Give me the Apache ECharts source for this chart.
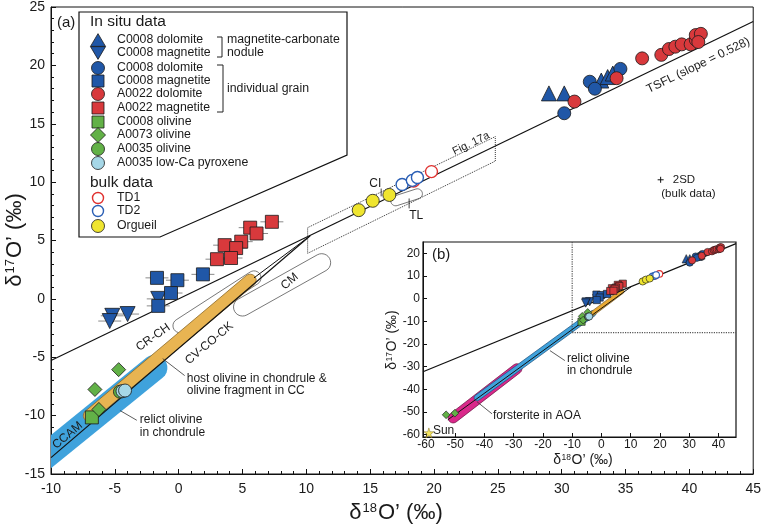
<!DOCTYPE html>
<html><head><meta charset="utf-8">
<script src="https://cdn.jsdelivr.net/npm/echarts@6/dist/echarts.min.js"></script>
<style>html,body{margin:0;padding:0;background:#fff}#c{width:764px;height:528px}</style>
</head><body><div id="c"></div>
<script>
// ================= DATA  [δ18O', δ17O'] (‰) =================
// In situ data
const c0008DolomiteNodule   = [[29.0,17.6],[30.2,17.6],[33.1,18.7],[33.6,19.0],[34.0,19.3]];
const c0008MagnetiteNodule  = [[-1.6,0.0],[-4.0,-1.3],[-5.2,-1.45],[-5.4,-1.9]];
const c0008DolomiteGrain    = [[30.2,15.9],[32.2,18.6],[32.6,18.0],[34.6,19.7]];
const c0008MagnetiteGrain   = [[-1.7,1.8],[-0.1,1.6],[1.9,2.1],[-0.6,0.5],[-1.6,-0.6]];
const a0022Dolomite         = [[31.0,16.9],[34.3,18.9],[36.3,20.6],[37.8,20.9],[38.4,21.4],[38.9,21.6],[39.4,21.8],[40.1,21.8],[40.5,22.2],[40.5,22.6],[40.9,22.7],[40.7,22.0]];
const a0022Magnetite        = [[7.3,6.6],[5.6,6.1],[6.1,5.6],[4.9,4.9],[3.6,4.6],[4.5,4.35],[3.0,3.4],[4.1,3.5]];
const c0008Olivine          = [[-6.8,-10.15]];
const a0073Olivine          = [[-4.7,-6.06],[-6.56,-7.76],[-6.25,-9.47],[-53.1,-51.2],[-50.1,-50.5]];
const a0035Olivine          = [[-4.6,-7.95]];
const a0035LowCaPyroxene    = [[-4.4,-7.9],[-4.2,-7.85]];
// bulk data
const bulkTD1               = [[18.4,10.1],[19.8,10.9]];
const bulkTD2               = [[17.5,9.8],[18.3,10.15],[18.7,10.4]];
const bulkOrgueil           = [[14.1,7.6],[15.2,8.4],[16.5,8.9]];
const sunValue              = [[-59.0,-59.2]];
// uncertainty (x, ‰) on magnetite analyses
const magnetiteErrX         = 0.9;
// reference lines / fields (end points in ‰)
const lineTSFL      = [[-10,-5.28],[45,23.76]];
const lineCCAM      = [[-10,-13.6],[10.3,5.4]];
const lineBranch    = [[5.9,1.8],[10.3,5.4]];
const fieldRelict   = [[-12.5,-15.3],[-1.9,-5.9]];
const fieldHost     = [[-7.0,-10.0],[5.6,1.6]];
const fieldCRCH     = [[0.1,-2.3],[5.9,1.8]];
const fieldCM       = [[5.0,-0.7],[11.2,3.1]];
const fieldTL       = [[17.0,8.4],[18.7,9.0]];
const boxFig17a     = [[10.1,6.1],[24.8,13.9],[24.8,11.8],[10.1,3.9],[10.1,6.1]];
const tickCI        = [[15.86,9.45],[15.86,8.78]];
const tickTL        = [[18.05,8.6],[18.05,7.75]];
// inset (b)
const insetTSFL     = [[-61,-32.2],[46,24.3]];
const insetCCAM     = [[-52.5,-53.4],[10.3,5.4]];
const insetAOA      = [[-50.7,-52.6],[-28.9,-30.9]];
const insetRelict   = [[-42.5,-43.7],[-2.9,-6.5]];
const insetHost     = [[-3.5,-7.0],[7.0,3.2]];
const insetDotV     = [[-10,25],[-10,-15]];
const insetDotH     = [[-10,-15],[46,-15]];
// axis tick values
const xTicksInset = [-60,-50,-40,-30,-20,-10,0,10,20,30,40];
const yTicksInset = [-60,-50,-40,-30,-20,-10,0,10,20];
// legend texts
const legendInSitu = ['C0008 dolomite','C0008 magnetite','C0008 dolomite','C0008 magnetite','A0022 dolomite','A0022 magnetite','C0008 olivine','A0073 olivine','A0035 olivine','A0035 low-Ca pyroxene'];
const legendBulk = ['TD1','TD2','Orgueil'];

// ================= STYLES =================
const FONT = 'Arial, "Liberation Sans", Helvetica, sans-serif';
const BLUE='#2057a7', RED='#d8393c', GREEN='#62b147', LBLUE='#a6d7e7', YEL='#efe52f', EDGE='#1a1a1a';
const sty = {
  dolNod:{symbol:'triangle', color:BLUE, size:15},
  magNod:{symbol:'triangle', rotate:180, color:BLUE, size:15},
  dolGrC:{symbol:'circle', color:BLUE, size:13},
  magGrC:{symbol:'rect', color:BLUE, size:13},
  dolA:{symbol:'circle', color:RED, size:13},
  magA:{symbol:'rect', color:RED, size:13},
  olC:{symbol:'rect', color:GREEN, size:13},
  ol73:{symbol:'diamond', color:GREEN, size:14},
  ol35:{symbol:'circle', color:GREEN, size:13},
  px35:{symbol:'circle', color:LBLUE, size:13},
  td1:{symbol:'circle', color:'#fff', border:'#e0312f', bw:1.4, size:12},
  td2:{symbol:'circle', color:'#fff', border:'#2b5fb5', bw:1.4, size:12},
  org:{symbol:'circle', color:YEL, size:13}
};
const seriesDefs = [
  ['C0008 dolomite (nodule)', c0008DolomiteNodule, sty.dolNod],
  ['C0008 magnetite (nodule)', c0008MagnetiteNodule, sty.magNod],
  ['C0008 dolomite', c0008DolomiteGrain, sty.dolGrC],
  ['C0008 magnetite', c0008MagnetiteGrain, sty.magGrC],
  ['A0022 dolomite', a0022Dolomite, sty.dolA],
  ['A0022 magnetite', a0022Magnetite, sty.magA],
  ['C0008 olivine', c0008Olivine, sty.olC],
  ['A0073 olivine', a0073Olivine, sty.ol73],
  ['A0035 olivine', a0035Olivine, sty.ol35],
  ['A0035 low-Ca pyroxene', a0035LowCaPyroxene, sty.px35],
  ['TD1', bulkTD1, sty.td1],
  ['TD2', bulkTD2, sty.td2],
  ['Orgueil', bulkOrgueil, sty.org]
];

function scatter(name, data, s, xi, scale){
  return {type:'scatter', name, data, xAxisIndex:xi, yAxisIndex:xi, silent:true, z:6,
    symbol:s.symbol, symbolRotate:s.rotate||0, symbolSize:Math.round(s.size*scale*10)/10,
    itemStyle:{color:s.color, borderColor:s.border||EDGE, borderWidth:(s.bw||0.8)*(scale<1?0.8:1), opacity:1}};
}
function stadium(p1,p2,r,n){
  n=n||12; const th=Math.atan2(p2[1]-p1[1],p2[0]-p1[0]); const pts=[];
  for(let i=0;i<=n;i++){const a=th+Math.PI/2-Math.PI*i/n; pts.push([p2[0]+r*Math.cos(a),p2[1]+r*Math.sin(a)]);}
  for(let i=0;i<=n;i++){const a=th-Math.PI/2-Math.PI*i/n; pts.push([p1[0]+r*Math.cos(a),p1[1]+r*Math.sin(a)]);}
  return pts;
}
function band(ends, widthPx, style, xi, z){
  return {type:'custom', xAxisIndex:xi, yAxisIndex:xi, silent:true, clip:true, z:z||3,
    data:[[ends[0][0],ends[0][1],ends[1][0],ends[1][1]]], encode:{x:[0,2],y:[1,3]},
    renderItem:(params,api)=>{
      const a=api.coord([api.value(0),api.value(1)]), b=api.coord([api.value(2),api.value(3)]);
      return {type:'polygon', shape:{points:stadium(a,b,widthPx/2)}, style:style};
    }};
}
function line(data, xi, ls, z){
  return {type:'line', data, xAxisIndex:xi, yAxisIndex:xi, symbol:'none', silent:true, z:z||4,
    lineStyle:Object.assign({color:'#111', width:1.2}, ls||{})};
}
function errBars(data, e, xi){
  return {type:'custom', xAxisIndex:xi, yAxisIndex:xi, silent:true, z:5, data,
    renderItem:(params,api)=>{
      const x=api.value(0), y=api.value(1);
      const a=api.coord([x-e,y]), b=api.coord([x+e,y]);
      return {type:'line', shape:{x1:a[0],y1:a[1],x2:b[0],y2:b[1]}, style:{stroke:'#8a8a8a', lineWidth:1}};
    }};
}
function texts(labels, xi){
  return {type:'custom', xAxisIndex:xi, yAxisIndex:xi, silent:true, clip:false, z:9,
    data:labels.map(l=>l.at),
    renderItem:(params,api)=>{
      const l=labels[params.dataIndex]; const p=api.coord([api.value(0),api.value(1)]);
      const al=l.align||'center';
      return {type:'text', x:p[0], y:p[1], rotation:(l.rot||0)*Math.PI/180,
        style:{text:l.t, fill:'#1a1a1a', fontSize:l.size||12, fontFamily:FONT, align:al, textAlign:al,
          verticalAlign:'middle', textVerticalAlign:'middle', lineHeight:l.lh||12.5}};
    }};
}

// annotation placements (data coords of label anchors)
const mainLabels = [
  {t:'CR-CH', at:[-2.0,-3.3], rot:35},
  {t:'CV-CO-CK', at:[2.4,-3.8], rot:40},
  {t:'CM', at:[8.7,1.5], rot:40},
  {t:'CCAM', at:[-8.7,-11.7], rot:40},
  {t:'TSFL (slope = 0.528)', at:[40.7,20.0], rot:25.8},
  {t:'Fig. 17a', at:[22.9,13.3], rot:25.8, size:11},
  {t:'CI', at:[15.4,9.9]},
  {t:'TL', at:[18.6,7.1]},
  {t:'host olivine in chondrule &\nolivine fragment in CC', at:[0.63,-7.33], align:'left'},
  {t:'relict olivine\nin chondrule', at:[-3.05,-10.9], align:'left'},
  {t:'2SD', at:[38.7,10.2], align:'left', size:11.5},
  {t:'(bulk data)', at:[37.8,9.0], align:'left', size:11.5}
];
const insetLabels = [
  {t:'relict olivine\nin chondrule', at:[-11.8,-29.0], align:'left', size:12},
  {t:'forsterite in AOA', at:[-37.1,-51.7], align:'left', size:12},
  {t:'Sun', at:[-57.6,-58.3], align:'left', size:12}
];
const leaderMain = [
  [[-1.25,-5.12],[0.47,-6.57]],
  [[-4.6,-9.56],[-3.28,-10.4]]
];
const leaderInset = [
  [[-17.6,-22.9],[-12.5,-27.3]],
  [[-42.5,-45.5],[-37.4,-50.8]]
];

// ================= SERIES =================
const series = [];
// main panel
series.push(band(fieldRelict, 26, {fill:'#3fa2dc', stroke:'none'}, 0, 2));
series.push(band(fieldCRCH, 14, {fill:'none', stroke:'#555', lineWidth:0.8}, 0, 3));
series.push(band(fieldCM, 18, {fill:'none', stroke:'#555', lineWidth:0.8}, 0, 3));
series.push(band(fieldTL, 10, {fill:'none', stroke:'#555', lineWidth:0.8}, 0, 3));
series.push(band(fieldHost, 12, {fill:'#e8b452', stroke:'#8b6a2a', lineWidth:0.8}, 0, 3));
series.push(line(lineTSFL, 0));
series.push(line(lineCCAM, 0));
series.push(line(lineBranch, 0, {width:1}));
series.push(line(boxFig17a, 0, {type:'dotted', width:1, color:'#333'}));
series.push(line(tickCI, 0, {width:0.8}));
series.push(line(tickTL, 0, {width:0.8}));
leaderMain.forEach(l=>series.push(line(l, 0, {width:0.8, color:'#333'})));
series.push(errBars(c0008MagnetiteGrain.concat(a0022Magnetite, c0008MagnetiteNodule), magnetiteErrX, 0));
seriesDefs.forEach(d=>series.push(scatter(d[0], d[1], d[2], 0, 1)));
// 2SD cross
series.push({type:'custom', xAxisIndex:0, yAxisIndex:0, silent:true, z:7, data:[[37.75,10.2]],
  renderItem:(p,api)=>{const c=api.coord([api.value(0),api.value(1)]);
    return {type:'group', children:[
      {type:'line', shape:{x1:c[0]-3,y1:c[1],x2:c[0]+3,y2:c[1]}, style:{stroke:'#111',lineWidth:1}},
      {type:'line', shape:{x1:c[0],y1:c[1]-3,x2:c[0],y2:c[1]+3}, style:{stroke:'#111',lineWidth:1}}]};}});
series.push(texts(mainLabels, 0));
// inset panel
series.push(line(insetDotV, 1, {type:'dotted', width:1.2, color:'#555'}, 3));
series.push(line(insetDotH, 1, {type:'dotted', width:1.2, color:'#555'}, 3));
series.push(band(insetAOA, 10, {fill:'#d9288a', stroke:'#6a1040', lineWidth:0.7}, 1, 3));
series.push(band(insetRelict, 6, {fill:'#3fa2dc', stroke:'#1e4f7a', lineWidth:0.7}, 1, 3));
series.push(band(insetHost, 4.5, {fill:'#e8a830', stroke:'#6b5020', lineWidth:0.6}, 1, 3));
series.push(line(insetTSFL, 1, {width:1.2}));
series.push(line(insetCCAM, 1, {width:1}));
leaderInset.forEach(l=>series.push(line(l, 1, {width:0.8, color:'#333'})));
seriesDefs.forEach(d=>series.push(scatter(d[0]+' (b)', d[1], d[2], 1, 0.55)));
series.push({type:'scatter', name:'Sun', data:sunValue, xAxisIndex:1, yAxisIndex:1, silent:true, z:6,
  symbol:'path://M50,0 L61,35 L98,35 L68,57 L79,91 L50,70 L21,91 L32,57 L2,35 L39,35 Z', symbolSize:10,
  itemStyle:{color:'#f2e03a', borderColor:'#7a6a1a', borderWidth:0.6}});
series.push(texts(insetLabels, 1));

// ================= LEGEND (graphic) =================
function marker(s, cx, cy, size){
  const h=size/2; const style={fill:s.color, stroke:s.border||EDGE, lineWidth:s.bw||0.8};
  if(s.symbol==='circle') return {type:'circle', shape:{cx,cy,r:h}, style};
  if(s.symbol==='rect') return {type:'rect', shape:{x:cx-h,y:cy-h,width:size,height:size}, style};
  if(s.symbol==='diamond') return {type:'polygon', shape:{points:[[cx,cy-h],[cx+h,cy],[cx,cy+h],[cx-h,cy]]}, style};
  if(s.rotate) return {type:'polygon', shape:{points:[[cx-h,cy-h*0.85],[cx+h,cy-h*0.85],[cx,cy+h*0.85]]}, style};
  return {type:'polygon', shape:{points:[[cx-h,cy+h*0.85],[cx+h,cy+h*0.85],[cx,cy-h*0.85]]}, style};
}
const g = [];
g.push({type:'polygon', z:50, shape:{points:[[79,12],[347,12],[347,155],[160,237],[79,237]]}, style:{fill:'#fff', stroke:'#111', lineWidth:1.2}});
function gtext(t, x, y, size, extra){
  return Object.assign({type:'text', z:60, x, y, style:{text:t, fill:'#1a1a1a', font:size+'px '+FONT, fontSize:size, fontFamily:FONT, align:'left', textAlign:'left', verticalAlign:'middle', textVerticalAlign:'middle'}}, extra||{});
}
g.push(gtext('In situ data', 90, 22, 15.5));
g.push(gtext('bulk data', 90, 183, 15.5));
const rowsInSitu=[40,53,68,81,94,108,122,135,149,163];
const legStyles=[sty.dolNod,sty.magNod,sty.dolGrC,sty.magGrC,sty.dolA,sty.magA,sty.olC,sty.ol73,sty.ol35,sty.px35];
const legSizes=[15,15,13,12,13,12,12,15,13,13];
legendInSitu.forEach((t,i)=>{ const m=marker(legStyles[i],98,rowsInSitu[i],legSizes[i]); m.z=60; g.push(m); g.push(gtext(t,117,rowsInSitu[i],12.3)); });
const rowsBulk=[198,211,226];
[sty.td1,sty.td2,sty.org].forEach((s,i)=>{ const m=marker(s,98,rowsBulk[i],i<2?11:13); m.z=60; g.push(m); g.push(gtext(legendBulk[i],117,rowsBulk[i],12.3)); });
g.push({type:'polyline', z:60, shape:{points:[[217,37],[222,37],[222,57],[217,57]]}, style:{stroke:'#222', lineWidth:1, fill:'none'}});
g.push({type:'polyline', z:60, shape:{points:[[217,65],[223,65],[223,112],[217,112]]}, style:{stroke:'#222', lineWidth:1, fill:'none'}});
g.push(gtext('magnetite-carbonate', 227, 40, 12.3));
g.push(gtext('nodule', 227, 52.5, 12.3));
g.push(gtext('individual grain', 227, 89, 12.3));
g.push(gtext('(a)', 57, 23, 15));
g.push(gtext('(b)', 432, 255, 15));
// axis titles
const richMain={a:{fontSize:22,fontFamily:FONT,fill:'#1a1a1a'}, s:{fontSize:13,fontFamily:FONT,fill:'#1a1a1a',verticalAlign:'top',padding:[0,1,0,1]}};
const richInset={a:{fontSize:14,fontFamily:FONT,fill:'#1a1a1a'}, s:{fontSize:8.5,fontFamily:FONT,fill:'#1a1a1a',verticalAlign:'top',padding:[0,0.5,0,0.5]}};
g.push({type:'text', z:60, x:396, y:513, style:{text:'{a|δ}{s|18}{a|O’ (‰)}', rich:richMain, align:'center', textAlign:'center', verticalAlign:'middle', textVerticalAlign:'middle'}});
g.push({type:'text', z:60, x:15, y:240, rotation:Math.PI/2, style:{text:'{a|δ}{s|17}{a|O’ (‰)}', rich:richMain, align:'center', textAlign:'center', verticalAlign:'middle', textVerticalAlign:'middle'}});
g.push({type:'text', z:60, x:583, y:460, style:{text:'{a|δ}{s|18}{a|O’ (‰)}', rich:richInset, align:'center', textAlign:'center', verticalAlign:'middle', textVerticalAlign:'middle'}});
g.push({type:'text', z:60, x:392, y:340, rotation:Math.PI/2, style:{text:'{a|δ}{s|17}{a|O’ (‰)}', rich:richInset, align:'center', textAlign:'center', verticalAlign:'middle', textVerticalAlign:'middle'}});

// ================= OPTION =================
const axCommon = {type:'value', splitLine:{show:false}, axisLine:{onZero:false, lineStyle:{color:'#111', width:1}}};
const option = {
  animation:false,
  textStyle:{fontFamily:FONT},
  grid:[
    {left:51, right:9, top:5, bottom:54, show:true, borderColor:'#111', borderWidth:1, backgroundColor:'transparent'},
    {left:423, right:28, top:242, bottom:91, show:true, borderColor:'#111', borderWidth:1.2, backgroundColor:'#fff'}
  ],
  xAxis:[
    Object.assign({}, axCommon, {gridIndex:0, min:-10, max:45, interval:5,
      axisTick:{inside:true, length:5, lineStyle:{color:'#111'}},
      minorTick:{show:true, splitNumber:5, length:3, lineStyle:{color:'#111'}},
      axisLabel:{fontSize:14, color:'#1a1a1a', margin:8, fontFamily:FONT}}),
    Object.assign({}, axCommon, {gridIndex:1, min:-61, max:46,
      axisTick:{inside:true, length:4, customValues:xTicksInset, lineStyle:{color:'#111'}},
      axisLabel:{customValues:xTicksInset, fontSize:12, color:'#1a1a1a', margin:2, fontFamily:FONT}})
  ],
  yAxis:[
    Object.assign({}, axCommon, {gridIndex:0, min:-15, max:25, interval:5,
      axisTick:{inside:true, length:5, lineStyle:{color:'#111'}},
      minorTick:{show:true, splitNumber:5, length:3, lineStyle:{color:'#111'}},
      axisLabel:{fontSize:14, color:'#1a1a1a', margin:6, fontFamily:FONT}}),
    Object.assign({}, axCommon, {gridIndex:1, min:-61, max:25,
      axisTick:{inside:true, length:4, customValues:yTicksInset, lineStyle:{color:'#111'}},
      axisLabel:{customValues:yTicksInset, fontSize:12, color:'#1a1a1a', margin:3, fontFamily:FONT}})
  ],
  series,
  graphic:g
};
const chart = echarts.init(document.getElementById('c'), null, {renderer:'canvas'});
chart.setOption(option);
</script></body></html>
